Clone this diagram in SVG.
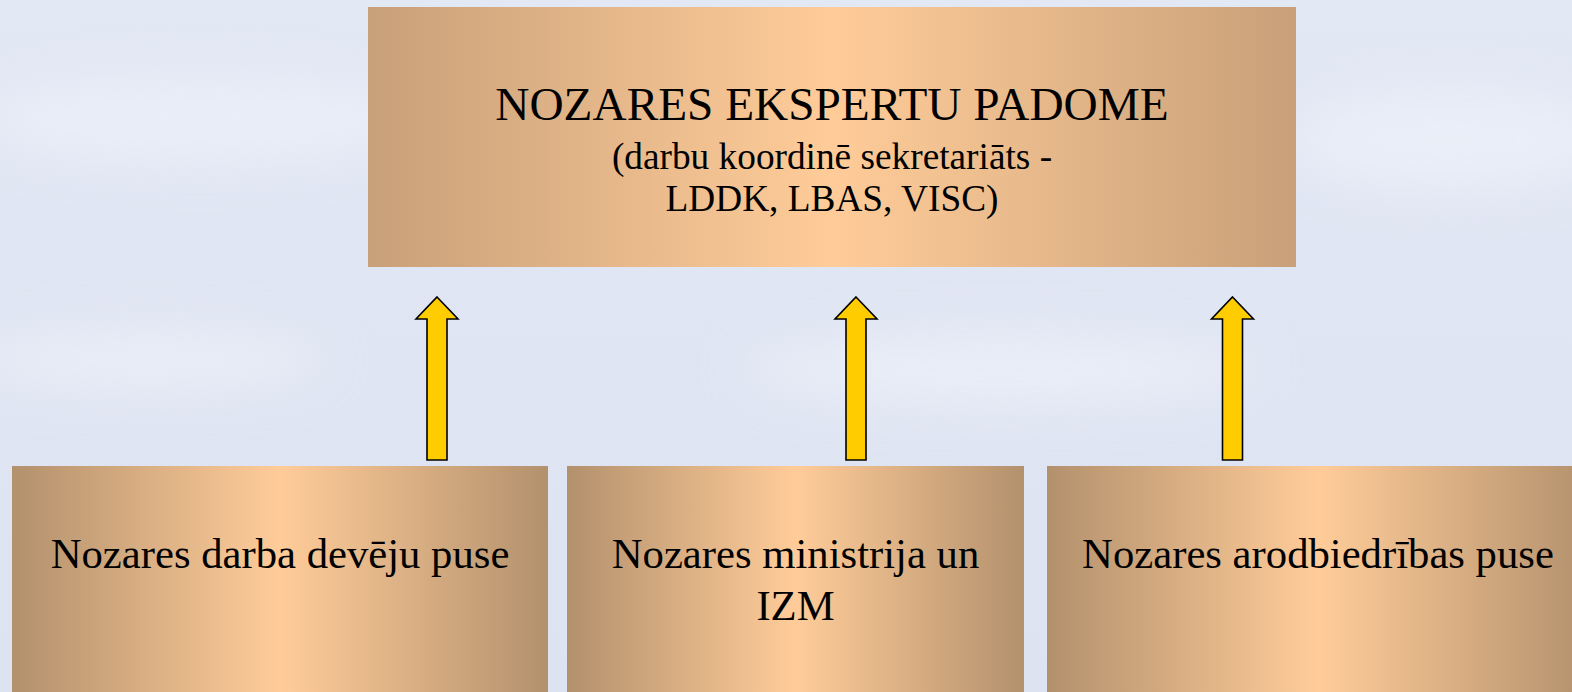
<svg xmlns="http://www.w3.org/2000/svg" width="1572" height="692" viewBox="0 0 1572 692">
  <defs>
    <linearGradient id="bg" x1="0" y1="0" x2="0" y2="1">
      <stop offset="0" stop-color="#e2e8f4"/>
      <stop offset="0.5" stop-color="#dfe5f2"/>
      <stop offset="1" stop-color="#dde3f1"/>
    </linearGradient>
    <linearGradient id="gTop" x1="0" y1="0" x2="1" y2="0">
      <stop offset="0" stop-color="#c8a079"/>
      <stop offset="0.5" stop-color="#ffcc99"/>
      <stop offset="1" stop-color="#c8a079"/>
    </linearGradient>
    <linearGradient id="gBot" x1="0" y1="0" x2="1" y2="0">
      <stop offset="0" stop-color="#b3916d"/>
      <stop offset="0.5" stop-color="#ffcc99"/>
      <stop offset="1" stop-color="#b3916d"/>
    </linearGradient>
    <filter id="blur" x="-50%" y="-50%" width="200%" height="200%">
      <feGaussianBlur stdDeviation="25"/>
    </filter>
  </defs>
  <style>
    .t { font-family: "Liberation Serif", "Times New Roman", serif; fill: #000; text-anchor: middle; }
    .arrow { fill: #ffcc00; stroke: #000; stroke-width: 1.6; stroke-linejoin: miter; }
  </style>

  <rect x="0" y="0" width="1572" height="692" fill="url(#bg)"/>
  <g filter="url(#blur)" fill="#eef2fa" opacity="0.7">
    <ellipse cx="200" cy="120" rx="220" ry="40"/>
    <ellipse cx="1450" cy="140" rx="160" ry="50"/>
    <ellipse cx="1000" cy="370" rx="260" ry="35"/>
    <ellipse cx="150" cy="360" rx="180" ry="30"/>
  </g>

  <g id="node-padome">
    <rect x="368" y="7" width="928" height="260" fill="url(#gTop)"/>
    <text class="t" x="832" y="120" font-size="47.3">NOZARES EKSPERTU PADOME</text>
    <text class="t" x="832" y="169" font-size="37.3">(darbu koordinē sekretariāts -</text>
    <text class="t" x="832" y="211" font-size="37.3">LDDK, LBAS, VISC)</text>
  </g>

  <g id="node-darba-deveji">
    <rect x="12" y="466" width="536" height="240" fill="url(#gBot)"/>
    <text class="t" x="280" y="568" font-size="42.7">Nozares darba devēju puse</text>
  </g>

  <g id="node-ministrija">
    <rect x="567" y="466" width="457" height="240" fill="url(#gBot)"/>
    <text class="t" x="795.5" y="568" font-size="42.7">Nozares ministrija un</text>
    <text class="t" x="795.5" y="620" font-size="42.7">IZM</text>
  </g>

  <g id="node-arodbiedribas">
    <rect x="1047" y="466" width="543" height="240" fill="url(#gBot)"/>
    <text class="t" x="1318" y="568" font-size="42.7">Nozares arodbiedrības puse</text>
  </g>

  <g id="connectors">
    <path class="arrow" d="M437,297 L458,319 L447,319 L447,460 L427,460 L427,319 L416,319 Z"/>
    <path class="arrow" d="M856,297 L877,319 L866,319 L866,460 L846,460 L846,319 L835,319 Z"/>
    <path class="arrow" d="M1232.5,297 L1253.5,319 L1242.5,319 L1242.5,460 L1222.5,460 L1222.5,319 L1211.5,319 Z"/>
  </g>
</svg>
